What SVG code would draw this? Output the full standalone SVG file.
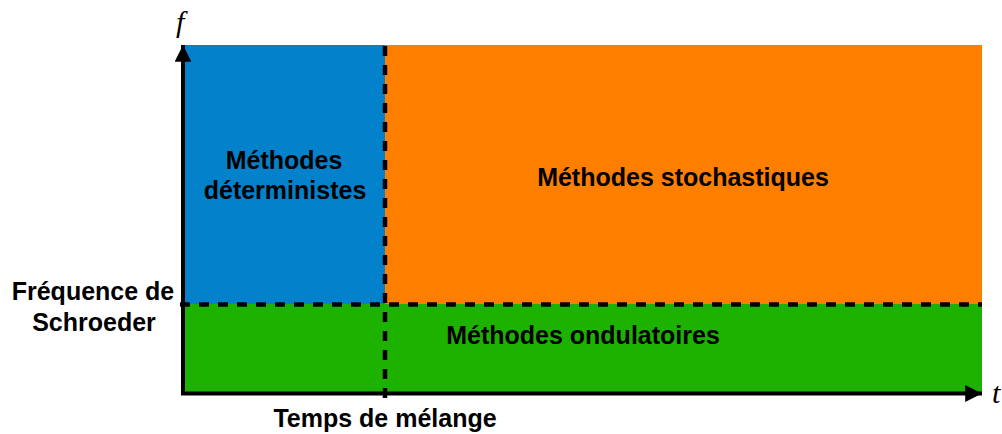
<svg xmlns="http://www.w3.org/2000/svg" width="1002" height="434" viewBox="0 0 1002 434">
<defs>
<style>
.lbl{font-family:"Liberation Sans",Arial,sans-serif;font-weight:bold;font-size:25px;fill:#000;text-anchor:middle}
.ax{font-family:"Liberation Serif","Times New Roman",serif;font-style:italic;font-size:30px;fill:#000}
.dash{stroke:#000;stroke-width:4.5;stroke-dasharray:10 9;fill:none}
.axis{stroke:#000;stroke-width:4;fill:none}
</style>
<marker id="arr" viewBox="0 0 10 10" refX="10" refY="5" markerWidth="4.2" markerHeight="4.2" markerUnits="strokeWidth" orient="auto">
<path d="M0,0 L10,5 L0,10 z" fill="#000"/>
</marker>
</defs>
<rect width="1002" height="434" fill="#fff"/>
<g id="deterministes">
<rect x="184" y="45" width="201" height="259" fill="#0481CB"/>
<text class="lbl" x="284" y="169">Méthodes</text>
<text class="lbl" x="285" y="199">déterministes</text>
</g>
<g id="stochastiques">
<rect x="385" y="45" width="597" height="259" fill="#FE7F00"/>
<text class="lbl" x="683" y="186">Méthodes stochastiques</text>
</g>
<g id="ondulatoires">
<rect x="184" y="304" width="798" height="90" fill="#1DB100"/>
<text class="lbl" x="583" y="344">Méthodes ondulatoires</text>
</g>
<g id="connectors">
<line class="dash" x1="180" y1="304.5" x2="982" y2="304.5"/>
<line class="dash" x1="385" y1="46" x2="385" y2="400"/>
<line class="axis" x1="183" y1="395" x2="183" y2="45" marker-end="url(#arr)"/>
<line class="axis" x1="181" y1="393.5" x2="982" y2="393.5" marker-end="url(#arr)"/>
</g>
<g id="labels">
<text class="ax" x="176" y="32">f</text>
<text class="ax" x="992" y="403">t</text>
<text class="lbl" x="93" y="300">Fréquence de</text>
<text class="lbl" x="94" y="331">Schroeder</text>
<text class="lbl" x="385" y="427">Temps de mélange</text>
</g>
</svg>
